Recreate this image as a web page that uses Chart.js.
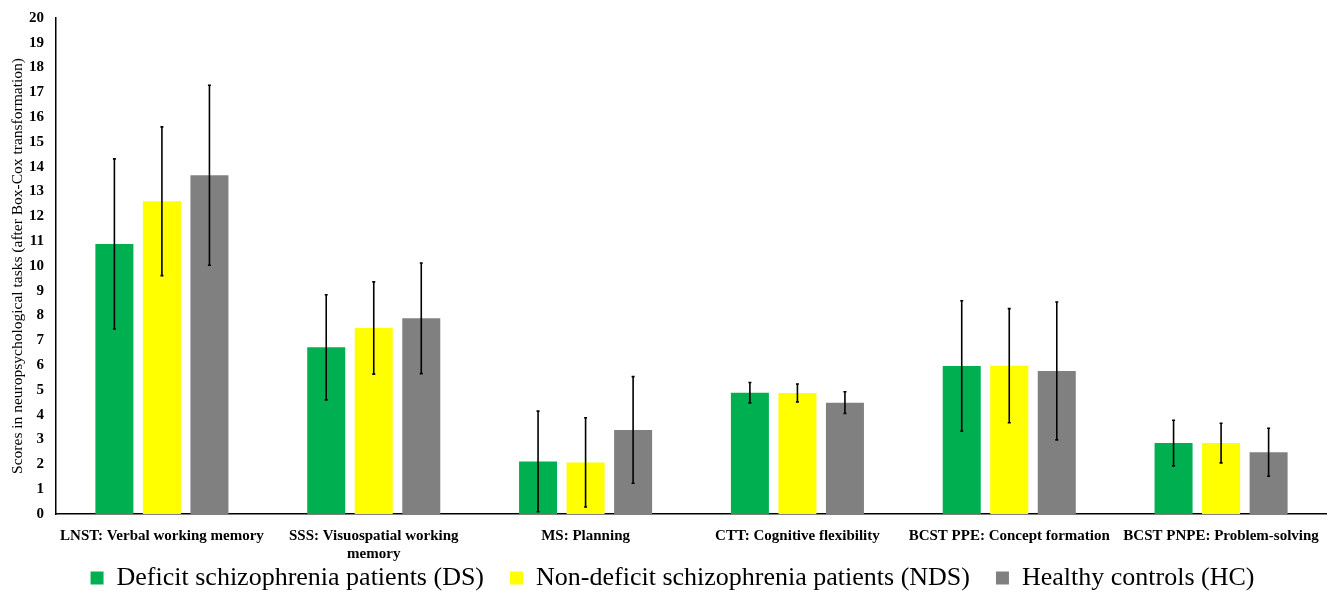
<!DOCTYPE html>
<html>
<head>
<meta charset="utf-8">
<script src="https://cdn.jsdelivr.net/npm/chart.js@4/dist/chart.umd.min.js"></script>
<style>
html,body{margin:0;padding:0;background:#fff;}
#wrap{width:1327px;height:594px;position:relative;}
</style>
</head>
<body>
<div id="wrap"><canvas id="c"></canvas></div>
<script>
const categories = [
  'LNST: Verbal working memory',
  ['SSS: Visuospatial working', 'memory'],
  'MS: Planning',
  'CTT: Cognitive flexibility',
  'BCST PPE: Concept formation',
  'BCST PNPE: Problem-solving'
];
const seriesNames = [
  'Deficit schizophrenia patients (DS)',
  'Non-deficit schizophrenia patients (NDS)',
  'Healthy controls (HC)'
];
const dsValues  = [10.89, 6.72, 2.12, 4.89, 5.97, 2.86];
const ndsValues = [12.61, 7.50, 2.08, 4.88, 5.98, 2.86];
const hcValues  = [13.66, 7.89, 3.39, 4.49, 5.77, 2.49];
const dsErr  = [3.43, 2.12, 2.03, 0.41, 2.63, 0.92];
const ndsErr = [3.00, 1.86, 1.80, 0.36, 2.30, 0.80];
const hcErr  = [3.63, 2.23, 2.15, 0.44, 2.78, 0.97];
const yTicks = [0,1,2,3,4,5,6,7,8,9,10,11,12,13,14,15,16,17,18,19,20];
const colors = ['#00B050', '#FFFF00', '#808080'];
const errors = [dsErr, ndsErr, hcErr];

const serif = "'Liberation Serif', 'DejaVu Serif', serif";
const LEGEND_PAD = 26;
const LEGEND_SHIFT_X = 9;

const errorBars = {
  id: 'errorBars',
  afterDatasetsDraw(chart) {
    const ctx = chart.ctx;
    const y = chart.scales.y;
    ctx.save();
    ctx.strokeStyle = '#000';
    ctx.lineWidth = 1.6;
    chart.data.datasets.forEach((ds, i) => {
      const meta = chart.getDatasetMeta(i);
      meta.data.forEach((bar, j) => {
        const v = ds.data[j], e = errors[i][j];
        const y1 = y.getPixelForValue(v + e);
        const y2 = y.getPixelForValue(v - e);
        ctx.beginPath();
        ctx.moveTo(bar.x, y1);
        ctx.lineTo(bar.x, y2);
        ctx.stroke();
        ctx.beginPath();
        ctx.moveTo(bar.x - 1.5, y1); ctx.lineTo(bar.x + 1.5, y1);
        ctx.moveTo(bar.x - 1.5, y2); ctx.lineTo(bar.x + 1.5, y2);
        ctx.stroke();
      });
    });
    ctx.restore();
  }
};

// compact legend: keep wide horizontal gaps but small vertical footprint
const legendCompact = {
  id: 'legendCompact',
  afterInit(chart) {
    const lg = chart.legend;
    if (!lg) return;
    const fit = lg.fit.bind(lg);
    lg.fit = function () { fit(); this.height = 29; };
    const draw = lg.draw.bind(lg);
    lg.draw = function () {
      const t = this.top, l = this.left, r = this.right;
      this.top = t - LEGEND_PAD;
      this.left = l + LEGEND_SHIFT_X;
      this.right = r + LEGEND_SHIFT_X;
      draw();
      this.top = t; this.left = l; this.right = r;
    };
  }
};

new Chart(document.getElementById('c'), {
  type: 'bar',
  data: {
    labels: categories,
    datasets: [dsValues, ndsValues, hcValues].map((d, i) => ({
      label: seriesNames[i],
      data: d,
      backgroundColor: colors[i],
      borderWidth: 0,
      categoryPercentage: 0.673,
      barPercentage: 0.8
    }))
  },
  options: {
    responsive: true,
    maintainAspectRatio: false,
    animation: false,
    layout: { padding: { top: 18, right: 0, left: 0, bottom: 0 } },
    plugins: {
      tooltip: { enabled: false },
      legend: {
        position: 'bottom',
        labels: {
          color: '#000',
          font: { family: serif, size: 26 },
          boxWidth: 13,
          boxHeight: 13,
          padding: LEGEND_PAD
        }
      }
    },
    scales: {
      x: {
        grid: { display: false, drawTicks: false },
        border: { display: true, color: '#000', width: 1.5 },
        ticks: {
          color: '#000',
          font: { family: serif, size: 15, weight: 'bold', lineHeight: 1.2 },
          maxRotation: 0,
          autoSkip: false,
          padding: 13
        },
        afterFit(scale) { scale.height = 51; scale.paddingRight = 0; }
      },
      y: {
        min: 0, max: 20,
        afterBuildTicks(axis) { axis.ticks = yTicks.map(v => ({ value: v })); },
        grid: { display: false, drawTicks: false },
        border: { display: true, color: '#000', width: 1.5 },
        ticks: {
          color: '#000',
          font: { family: serif, size: 15, weight: 'bold' },
          padding: 12
        },
        title: {
          display: true,
          text: 'Scores in neuropsychological tasks (after Box-Cox transformation)',
          color: '#000',
          font: { family: serif, size: 15.5 },
          padding: { top: 9, bottom: 0 }
        },
        afterFit(scale) { scale.width = 56; scale.paddingTop = 0; scale.paddingBottom = 0; }
      }
    }
  },
  plugins: [errorBars, legendCompact]
});
</script>
</body>
</html>
